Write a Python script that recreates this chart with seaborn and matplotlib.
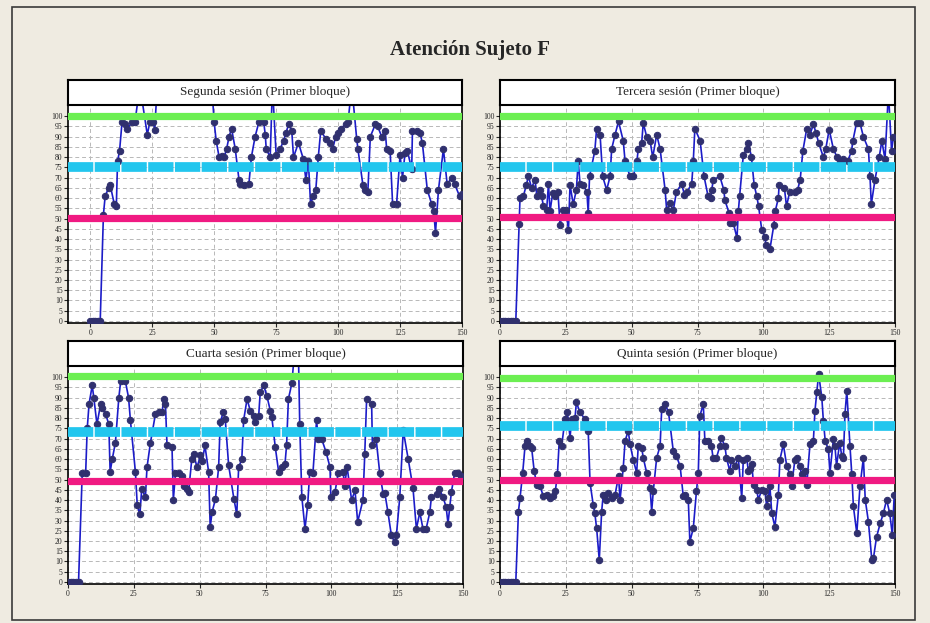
import matplotlib
matplotlib.use('Agg')
import matplotlib.pyplot as plt
import seaborn as sns
from matplotlib.patches import Rectangle

sns.set_style('white')
plt.rcParams['font.family'] = ['Liberation Serif', 'DejaVu Serif']

# datos
titles = ['Segunda sesión (Primer bloque)', 'Tercera sesión (Primer bloque)',
          'Cuarta sesión (Primer bloque)', 'Quinta sesión (Primer bloque)']

x_seg = [0, 1, 2, 3, 4, 5.3, 6, 7.4, 8, 9.7,
         10.5, 11, 11.8, 12.8, 14, 15, 16.8, 18, 20, 23,
         24, 25.5, 26, 27, 35, 45, 49, 50, 50.8, 52,
         53, 54, 55, 56, 57, 58.5, 60, 60.5, 62, 64,
         65, 66.5, 68, 70, 70.6, 71, 72.6, 73.5, 75, 76.6,
         78, 79, 80, 81.3, 82, 84, 86, 87, 88, 88.9,
         90, 91, 92, 93, 95, 96.8, 97.8, 99, 100, 101,
         103, 104, 105.5, 107.5, 108, 110, 111, 112, 113, 115,
         116, 117.6, 119, 119.6, 121, 122, 123.6, 125, 126, 127,
         128, 129.7, 130, 131.7, 133, 134, 136, 137.8, 138.6, 139.3,
         140.5, 142.5, 144, 146, 147, 149, 150]
y_seg = [0, 0, 0, 0, 0, 52, 61, 65, 66.5, 57,
         56, 78, 83, 97, 96, 94, 97, 97, 115, 91,
         97, 97, 93.5, 115, 118, 115, 115, 97, 88, 80,
         80.5, 80, 84, 90, 94, 84, 69, 67, 66.5, 67,
         80, 90, 97, 97, 91, 84, 80, 115, 81, 84,
         88, 92, 96, 93, 80, 87, 79, 69, 78, 57,
         61, 64, 80, 93, 89, 87, 84, 90, 92, 94,
         96, 97, 115, 89, 84, 66.5, 64, 63, 90, 96,
         95, 90, 93, 84, 83, 57, 57, 81, 70, 82,
         83, 74, 93, 93, 92, 87, 64, 57, 53.5, 43,
         64, 84, 67, 70, 67, 61, 62]

x_ter = [0, 1, 2, 3, 4, 5, 6, 7.3, 7.6, 8.9,
         10, 10.8, 12, 13.3, 14, 15, 15.8, 16.5, 17.7, 18.4,
         19, 20, 21, 22, 22.8, 24, 25, 26, 26.6, 27.8,
         29, 29.7, 30.4, 31.6, 33, 33.5, 34, 36, 36.7, 38,
         39, 40.5, 41.8, 42.4, 43.7, 45, 46.8, 47.5, 49.4, 50.6,
         52, 52.5, 53.8, 54.4, 55.7, 57, 58, 59.5, 60.8, 62.7,
         63.3, 64.5, 65.8, 67, 69, 70, 71, 72.8, 73.4, 74,
         76, 77.5, 79, 80, 80.4, 81, 83.5, 85, 85.4, 87,
         87.3, 88.6, 90, 90.5, 91, 92.4, 93.7, 94.3, 95.5, 96.5,
         97.5, 98.2, 99.4, 100.6, 101, 102.5, 104, 104.5, 105.7, 106,
         108, 108.8, 110, 112, 113, 114, 115, 116.5, 117.7, 119,
         120, 121, 122.8, 123.7, 125, 126.6, 128, 129, 130.4, 132,
         133.5, 134, 135.4, 136.7, 138, 139.9, 140.5, 141, 142.4, 144,
         145, 146.2, 147.5, 148.7, 149.4]
y_ter = [0, 0, 0, 0, 0, 0, 0, 47.5, 60, 61,
         66.5, 70.6, 65, 69, 61, 64, 61, 56, 54, 67,
         53.5, 62.5, 61, 63, 47, 54, 54, 44.5, 66.5, 57,
         64, 78, 67, 66.5, 63, 52.7, 70.6, 83, 94, 91,
         70.6, 64, 70.6, 84, 91, 97.5, 88, 78, 70.6, 70.6,
         78, 84, 87, 96.7, 90, 88, 80, 91, 84, 64,
         54, 57.6, 54, 63, 67, 61.7, 63, 67, 78, 94,
         88, 70.6, 61, 60, 64, 69, 70.6, 64, 59, 52.7,
         47.8, 47.8, 40.5, 53.5, 61, 81, 84, 87, 80, 66.5,
         61, 56, 44.5, 41, 37, 35, 47, 53.5, 60, 66.5,
         65, 56, 63, 63, 64, 69, 83, 94, 91, 96,
         92, 87, 80, 84, 93.5, 84, 80, 78, 79, 78,
         83, 88, 96.7, 96.7, 90, 84, 70.6, 57, 69, 80,
         88, 79, 112, 83, 90]

x_cua = [0, 1, 2, 3, 4, 5.4, 6.7, 7.3, 8, 9.2,
         9.8, 11, 12.4, 13, 14.3, 15.5, 16, 16.8, 18, 19.3,
         20, 21.8, 23, 23.7, 25.6, 26.3, 27.3, 28, 29.4, 30,
         31.3, 33.2, 34.5, 35.7, 36.4, 37, 37.6, 39.5, 40, 40.8,
         42, 43.3, 44, 45.2, 45.8, 47, 47.7, 49, 50.3, 51,
         52, 53.4, 54, 54.7, 56, 57.2, 57.8, 59, 59.7, 61,
         63, 64.1, 64.8, 66, 66.7, 68, 69.2, 70.5, 71, 72.4,
         73, 74.3, 75.5, 76.8, 77.4, 78.7, 80, 81.2, 82.4, 83,
         83.7, 85, 86, 87.5, 88, 88.8, 90, 91, 91.8, 93,
         94.4, 95, 96.3, 98, 99.5, 99.8, 101.4, 102.6, 104.5, 105,
         106, 107.7, 109, 110, 112, 112.7, 113.4, 115.3, 115.6, 117,
         118.4, 119.7, 120.3, 121.5, 122.8, 124, 124.7, 126, 127.3, 129.2,
         131, 132.3, 133.6, 134.8, 136, 137.4, 138, 140, 141, 142.4,
         143.6, 144.3, 145, 145.6, 146.8, 148, 149.3]
y_cua = [0, 0, 0, 0, 0, 53, 53, 75, 87, 96,
         90, 77, 87, 85, 82, 77, 53.7, 60, 68, 90,
         98, 98, 90, 79, 53.7, 37.4, 33, 45.5, 41.5, 56,
         68, 82, 83, 83, 89.4, 87, 66.7, 66, 40, 53,
         53, 52, 47, 45.5, 44, 60, 62.6, 56, 61.8, 59,
         66.7, 53.7, 26.8, 34, 40.6, 56, 78, 83, 79.7, 57,
         40.6, 33, 56, 60, 79, 89.4, 83.7, 81, 78, 81,
         92.7, 96, 91, 83.7, 80.5, 66, 53.7, 56, 57.7, 66.7,
         89.4, 97, 112, 112, 77, 41.5, 26, 37.4, 53.7, 53,
         79, 70, 70, 63.4, 56, 41.5, 44, 53, 53.7, 47,
         56, 40, 44.7, 29.3, 40, 62.6, 89.4, 87, 66.7, 70,
         53, 43, 43.6, 34, 22.8, 19.5, 22.8, 41.5, 74, 60,
         46, 26, 34, 26, 26, 34, 41.5, 43, 45.5, 41.5,
         36.6, 28.5, 36.6, 44, 53, 53, 52]

x_qui = [0, 1, 2, 3, 4, 5, 6, 7, 7.6, 8.6,
         9.5, 10.4, 11.4, 12, 13, 14, 15.2, 16.5, 17.7, 19,
         20.3, 21, 21.8, 22.5, 23.4, 24.7, 25.6, 26.6, 27.2, 28.5,
         29, 30.4, 32.3, 33.5, 34.2, 35.4, 36, 36.7, 37.7, 38.6,
         39.2, 40.3, 41, 42.4, 43.7, 45, 45.6, 46.8, 47.5, 48.7,
         49.4, 50.6, 51.9, 52.5, 53.8, 54.4, 55.7, 57, 57.6, 58.2,
         59.5, 60.8, 61.4, 62.7, 64, 65.8, 67, 68.4, 69.6, 70.2,
         71.5, 72.1, 73.4, 74.6, 75.3, 75.9, 77.2, 77.8, 79, 80.3,
         80.9, 82.2, 83.5, 84, 85.4, 86, 87.3, 87.9, 89.2, 90.5,
         91.8, 92.4, 93.7, 94.3, 95, 95.6, 96.3, 97.5, 98.1, 99.4,
         100.6, 101.3, 101.9, 102.5, 103.2, 104.4, 105.7, 106.3, 107.6, 108.9,
         110.1, 110.7, 112, 112.7, 113.9, 114.5, 115.8, 116.5, 117.7, 119,
         119.6, 120.3, 121, 122.2, 122.8, 123.5, 124.7, 125.3, 126.6, 127.2,
         127.8, 129, 129.8, 130.4, 131, 131.7, 132.9, 133.6, 134.2, 135.5,
         136.7, 138, 138.7, 139.9, 141.2, 141.8, 143, 144.4, 145.6, 146.8,
         148, 149, 149.7]
y_qui = [0, 0, 0, 0, 0, 0, 0, 34.4, 41, 53,
         66.4, 68.9, 66.4, 65.6, 54, 47.5, 46.7, 41.8, 42.6, 41,
         41.8, 44.3, 52.5, 68.9, 66.4, 79.5, 82.8, 70.5, 79.5, 80.3,
         87.7, 82.8, 79.5, 73.8, 48.4, 37.7, 33.6, 26.2, 10.7, 34.4,
         42.6, 40.2, 43.4, 41, 42.6, 51.6, 40.2, 55.7, 68.9, 73.8,
         67.2, 59.8, 53.3, 66.4, 65.6, 60.7, 53.3, 45.9, 34.4, 44.3,
         60.7, 66.4, 84.4, 86.9, 82.8, 64, 61.5, 56.6, 41.8, 42.6,
         40.2, 19.7, 26.2, 44.3, 53.3, 81.1, 86.9, 68.9, 68.9, 66.4,
         60.7, 60.7, 66.4, 70.5, 66.4, 60.7, 54, 59.8, 56.6, 60.7,
         41, 59.8, 60.7, 54, 55, 57.4, 47.5, 45, 40.2, 45,
         44.3, 36.9, 41, 46.7, 33.6, 27, 42.6, 59.8, 67.2, 56.6,
         52.5, 46.7, 59.8, 60.7, 56.6, 52.5, 54, 47.5, 67.2, 68.9,
         83.6, 92.6, 101.6, 90.2, 78.7, 68.9, 64.8, 53.3, 69.7, 66.4,
         56.6, 68, 61.5, 60.7, 82, 93.4, 66.4, 52.5, 36.9, 23.8,
         46.7, 60.7, 40.2, 29.5, 10.7, 11.5, 22, 28.7, 33.6, 40.2,
         33.6, 22.9, 42.6]

# lineas de referencia (maximo, media, minimo)
ref_max = [100, 100, 100.4, 99.7]
ref_mid = [75, 75, 73.5, 76]
ref_min = [50.2, 50.7, 49.3, 49.7]

series = [(x_seg, y_seg), (x_ter, y_ter), (x_cua, y_cua), (x_qui, y_qui)]
for xs, ys in series:
    assert len(xs) == len(ys)

# posiciones en pixeles: izq, arriba, ancho, alto
boxes = [(68, 105, 394, 218), (500, 105, 395, 218),
         (68, 366, 395, 218), (500, 366, 395, 218)]
xmins = [-9, 0, 0, 0]
W, H = 930, 623
BG = '#efebe1'


def rect(l, t, w, h):
    return [l / W, 1 - (t + h) / H, w / W, h / H]


fig = plt.figure(figsize=(9.3, 6.23), dpi=100, facecolor=BG)
fig.add_artist(Rectangle((12 / W, 1 - 620 / H), 903 / W, 613 / H, transform=fig.transFigure,
                         fill=False, ec='#3a3a3a', lw=1.2))
fig.text(470 / W, 1 - 50 / H, 'Atención Sujeto F', ha='center', va='center',
         fontsize=15, fontweight='bold')

for i, (xs, ys) in enumerate(series):
    l, t, w, h = boxes[i]
    ax = fig.add_axes(rect(l, t, w, h))
    ax.set_facecolor('white')
    ax.set_xlim(xmins[i], 150)
    ax.set_ylim(-1, 105.5)
    ax.set_yticks(range(0, 101, 5))
    ax.set_xticks(range(0, 151, 25))
    ax.grid(True, ls=(0, (4, 3)), color='#b8b8b8', lw=0.7, zorder=0)

    sns.lineplot(x=xs, y=ys, ax=ax, color='#1c1cc8', lw=1.2, marker='o', ms=4.6,
                 mfc='#30306e', mec='#30306e', sort=False, zorder=3)

    ax.axhline(ref_max[i], color='#6cef52', lw=5.2, zorder=4)
    ax.axhline(ref_mid[i], color='#22c6ee', lw=7, ls=(0, (2.6, 0.15)), zorder=4)
    ax.axhline(ref_min[i], color='#f01a82', lw=5.2, zorder=4)

    ax.tick_params(direction='out', length=3, width=0.8, labelsize=5.5, pad=1,
                   left=True, bottom=True)
    for s in ax.spines.values():
        s.set_color('black')
        s.set_linewidth(1.2)
    ax.set_xlabel('')
    ax.set_ylabel('')

    # caja del titulo de cada panel
    axt = fig.add_axes(rect(l, t - 25, w, 25))
    axt.set_facecolor('white')
    axt.set_xticks([])
    axt.set_yticks([])
    for s in axt.spines.values():
        s.set_color('black')
        s.set_linewidth(1.5)
    axt.text(0.5, 0.5, titles[i], ha='center', va='center', fontsize=9.5,
             transform=axt.transAxes)

fig.savefig('out.png', dpi=100, facecolor=BG)
